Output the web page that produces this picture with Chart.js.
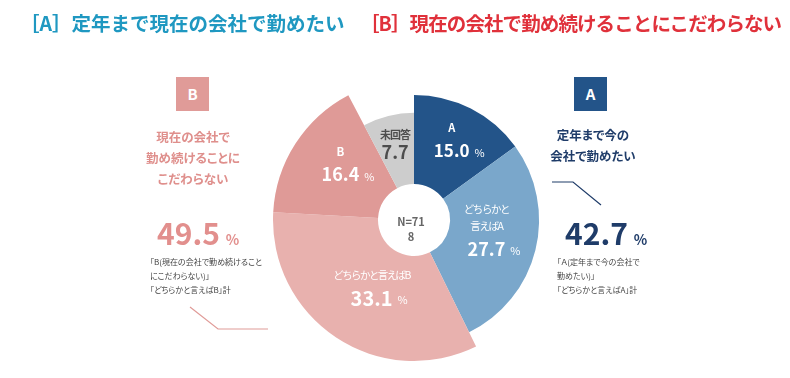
<!DOCTYPE html>
<html lang="ja">
<head>
<meta charset="utf-8">
<title>定年まで現在の会社で勤めたい / 現在の会社で勤め続けることにこだわらない</title>
<script src="https://cdn.jsdelivr.net/npm/chart.js@4.4.1/dist/chart.umd.min.js"></script>
<style>
  html, body { margin: 0; padding: 0; background: #fff; }
  body { width: 790px; height: 378px; position: relative; overflow: hidden;
         font-family: "Noto Sans CJK JP", "Noto Sans", sans-serif; }
  #wrap { position: absolute; left: 0; top: 0; width: 790px; height: 378px; }
  .abs { position: absolute; white-space: nowrap; font-feature-settings: "palt"; }
  .title { font-size: 19.5px; font-weight: bold; line-height: 24px; top: 11px; font-feature-settings: normal; }
  .box { width: 33px; height: 34px; color: #fff; font-weight: bold; font-size: 15px;
         line-height: 34px; text-align: center; top: 77px; }
  .head { font-size: 12.5px; font-weight: bold; line-height: 21px; text-align: center; }
  .big { font-weight: bold; font-size: 30px; line-height: 36px; top: 214px; }
  .big span { font-size: 14px; margin-left: 6px; }
  .note { font-size: 8px; line-height: 14px; color: #444; top: 255px; }
  svg { position: absolute; left: 0; top: 0; }
</style>
</head>
<body>
<div id="wrap"><canvas id="chart"></canvas></div>

<div class="abs title" style="left:20px; color:#1f98c1;">［A］定年まで現在の会社で勤めたい</div>
<div class="abs title" style="left:360px; color:#e0313b; letter-spacing:-0.9px;">［B］現在の会社で勤め続けることにこだわらない</div>

<div class="abs box" style="left:176px; background:#e09b98;">B</div>
<div class="abs head" style="left:133px; width:120px; top:126px; color:#df8f8c;">現在の会社で<br>勤め続けることに<br>こだわらない</div>
<div class="abs big" id="totalB" style="left:157px; color:#e28f8d;"></div>
<div class="abs note" style="left:150px;">「B(現在の会社で勤め続けること<br>にこだわらない)」<br>「どちらかと言えばB」計</div>

<div class="abs box" style="left:574px; background:#235489;">A</div>
<div class="abs head" style="left:533px; width:120px; top:124px; color:#1f3c69;">定年まで今の<br>会社で勤めたい</div>
<div class="abs big" id="totalA" style="left:565px; color:#1f3c69;"></div>
<div class="abs note" style="left:557px;">「Ａ(定年まで今の会社で<br>勤めたい)」<br>「どちらかと言えばA」計</div>

<svg width="790" height="378">
  <polyline points="190,307 218,329 268,329" fill="none" stroke="#e09b98" stroke-width="1.2"/>
  <polyline points="552,182 573,182 601,205" fill="none" stroke="#1f3c69" stroke-width="1.2"/>
</svg>

<script>
const categories = ['A', 'どちらかと言えばA', 'どちらかと言えばB', 'B', '未回答'];
const shares = [15.0, 27.7, 33.1, 16.4, 7.7];
const sliceNames = [['A'], ['どちらかと', '言えばA'], ['どちらかと言えばB'], ['B'], ['未回答']];
const groupA = ['A', 'どちらかと言えばA'];
const groupB = ['どちらかと言えばB', 'B'];
const sampleSize = 718;

const colors = ['#235489', '#7aa7cb', '#e8b1ae', '#df9a97', '#cdcdcd'];

// each slice is drawn with its own outer radius, as in the original
const radiusRatio = [0.887, 0.887, 1, 1, 0.76];
// label anchor: distance from centre (px) and angle shift from mid-slice (deg)
const labelPlace = [[89, -2], [73, -7], [79, -1], [93, 5], [79, 0]];
const nameFont = ['bold 11px', '10.5px', '10.5px', 'bold 11.5px', 'bold 11px'];
const nameSpacing = ['0px', '-1.4px', '-1.6px', '0px', '-1px'];
const valueSize = [17, 18, 20, 18, 18];
const textColor = ['#fff', '#fff', '#fff', '#fff', '#4d4d4d'];
const fontFamily = '"Noto Sans CJK JP", "Noto Sans", sans-serif';

function groupTotal(names) {
  return names.reduce((s, n) => s + shares[categories.indexOf(n)], 0).toFixed(1);
}
document.getElementById('totalA').innerHTML = groupTotal(groupA) + '<span>%</span>';
document.getElementById('totalB').innerHTML = groupTotal(groupB) + '<span>%</span>';

const shapePlugin = {
  id: 'shape',
  afterDatasetsUpdate(chart) {
    const meta = chart.getDatasetMeta(0);
    const outer = meta.controller.outerRadius;
    meta.data.forEach((arc, i) => { arc.outerRadius = outer * radiusRatio[i]; });
  }
};

const labelPlugin = {
  id: 'sliceLabels',
  afterDatasetsDraw(chart) {
    const ctx = chart.ctx;
    const meta = chart.getDatasetMeta(0);
    ctx.save();
    ctx.textAlign = 'center';
    ctx.textBaseline = 'middle';
    meta.data.forEach((arc, i) => {
      const mid = (arc.startAngle + arc.endAngle) / 2 + labelPlace[i][1] * Math.PI / 180;
      const cx = arc.x + Math.cos(mid) * labelPlace[i][0];
      const cy = arc.y + Math.sin(mid) * labelPlace[i][0];
      const names = sliceNames[i];
      const gap = i === 4 ? 17 : 23;
      let y = cy - ((names.length - 1) * 17 + gap) / 2;
      ctx.fillStyle = textColor[i];
      ctx.font = nameFont[i] + ' ' + fontFamily;
      ctx.letterSpacing = nameSpacing[i];
      names.forEach((t, k) => ctx.fillText(t, cx, y + k * 17));
      ctx.letterSpacing = '0px';
      const vy = y + (names.length - 1) * 17 + gap;
      const num = shares[i].toFixed(1);
      ctx.font = 'bold ' + valueSize[i] + 'px ' + fontFamily;
      ctx.fillText(num, cx, vy);
      if (i !== 4) {
        const w = ctx.measureText(num).width;
        ctx.font = '11px ' + fontFamily;
        ctx.textAlign = 'left';
        ctx.fillText('%', cx + w / 2 + 5, vy + 2);
        ctx.textAlign = 'center';
      }
    });
    // sample size in the hole
    const c = meta.data[0];
    ctx.fillStyle = '#666';
    ctx.font = 'bold 11px ' + fontFamily;
    const n = 'N=' + sampleSize;
    ctx.fillText(n.slice(0, 4), c.x - 3, c.y + 2);
    ctx.fillText(n.slice(4), c.x - 3, c.y + 17);
    ctx.restore();
  }
};

new Chart(document.getElementById('chart'), {
  type: 'doughnut',
  data: {
    labels: categories,
    datasets: [{
      data: shares,
      backgroundColor: colors,
      borderWidth: 0
    }]
  },
  options: {
    responsive: true,
    maintainAspectRatio: false,
    animation: false,
    events: [],
    cutout: 36,
    layout: { padding: { left: 38, right: 0, top: 79, bottom: 17 } },
    plugins: {
      legend: { display: false },
      tooltip: { enabled: false },
      title: { display: false }
    }
  },
  plugins: [shapePlugin, labelPlugin]
});
</script>
</body>
</html>
